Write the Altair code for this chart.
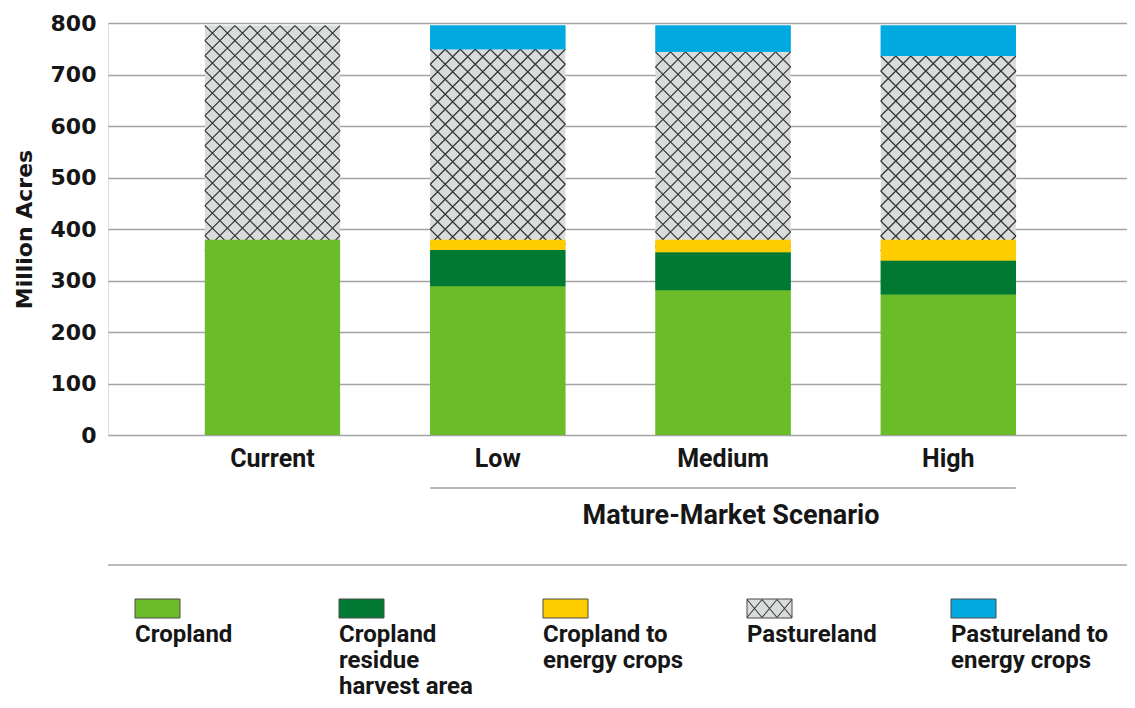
import altair as alt
import pandas as pd

# ---------------- data ----------------
scenarios = ["Current", "Low", "Medium", "High"]
categories = [
    "Cropland",
    "Cropland residue harvest area",
    "Cropland to energy crops",
    "Pastureland",
    "Pastureland to energy crops",
]
legend_labels = [
    "Cropland",
    "Cropland\nresidue\nharvest area",
    "Cropland to\nenergy crops",
    "Pastureland",
    "Pastureland to\nenergy crops",
]
cropland = [379, 289, 281, 273]
residue = [0, 70, 74, 66]
crop_energy = [0, 20, 24, 40]
pasture = [416, 370, 365, 357]
pasture_energy = [0, 46, 51, 59]
group_label = "Mature-Market Scenario"
y_ticks = [0, 100, 200, 300, 400, 500, 600, 700, 800]

colors = ["#6abd28", "#007a33", "#ffcc00", "#d8dcdc", "#00a9e0"]

series = [cropland, residue, crop_energy, pasture, pasture_energy]
rows = []
for ci, (cat, vals) in enumerate(zip(categories, series)):
    for si, (sc, v) in enumerate(zip(scenarios, vals)):
        rows.append({"scenario": sc, "idx": si, "category": cat, "order": ci, "value": v})
df = pd.DataFrame(rows)
scen_df = pd.DataFrame({"scenario": scenarios, "idx": list(range(len(scenarios)))})
leg_df = pd.DataFrame({"category": categories, "label": legend_labels,
                       "i": list(range(len(categories)))})
grp_df = pd.DataFrame({"label": [group_label], "from": [1], "to": [3]})

# ---------------- layout constants ----------------
W, H = 1019, 412
HALF = 0.3                      # half bar width in x units
CELL_Y = 800 * 15 / H           # hatch cell height in data units (15 px)
NX = 9                          # hatch cells across a bar
NARROW = "Roboto, Liberation Sans, sans-serif"
WIDE = "DejaVu Sans, sans-serif"
GRID = "#a3a3a3"
TXT = "#161616"

xs = alt.Scale(domain=[-0.73, 3.793], nice=False, zero=False)
ys = alt.Scale(domain=[0, 800], nice=False)
color_scale = alt.Scale(domain=categories, range=colors)

base = alt.Chart(df).transform_stack(
    stack="value", groupby=["scenario"], as_=["y0", "y1"],
    sort=[alt.SortField("order", order="ascending")]
).transform_calculate(
    xl=f"datum.idx - {HALF}", xr=f"datum.idx + {HALF}"
)

bars_all = base.mark_rect().encode(
    x=alt.X("xl:Q", scale=xs, axis=None),
    x2="xr:Q",
    y=alt.Y("y0:Q", scale=ys, title="Million Acres",
            axis=alt.Axis(values=y_ticks, grid=True, gridColor=GRID, gridWidth=1.6,
                          domain=False, ticks=False, labelPadding=12,
                          labelFont=WIDE, labelFontSize=22, labelFontWeight="bold",
                          labelColor=TXT, titleFont=WIDE, titleFontSize=22,
                          titleFontWeight="bold", titleColor=TXT, titleAngle=270,
                          titleX=-84, titleY=206, titleAlign="center",
                          titleBaseline="middle")),
    y2="y1:Q",
    color=alt.Color("category:N", scale=color_scale, legend=None),
)

hatch = base.transform_filter(
    "datum.category == 'Pastureland' && datum.value > 0"
).transform_calculate(
    js=f"sequence(0, {NX})"
).transform_flatten(["js"]).transform_calculate(
    ks=f"sequence(0, ceil((datum.y1 - datum.y0) / {CELL_Y}))"
).transform_flatten(["ks"]).transform_calculate(
    hx=f"datum.idx - {HALF} + (datum.js + 0.5) * {2 * HALF} / {NX}",
    hy=f"datum.y1 - (datum.ks + 0.5) * {CELL_Y}",
).mark_point(
    shape="M-1,-1L1,1M-1,1L1,-1", size=225, filled=False,
    strokeWidth=1.2, color="#333333", opacity=1
).encode(
    x=alt.X("hx:Q", scale=xs, axis=None),
    y=alt.Y("hy:Q", scale=ys),
)

bars_top = base.transform_filter("datum.category != 'Pastureland'").mark_rect().encode(
    x=alt.X("xl:Q", scale=xs, axis=None),
    x2="xr:Q",
    y=alt.Y("y0:Q", scale=ys),
    y2="y1:Q",
    color=alt.Color("category:N", scale=color_scale, legend=None),
)

xlabels = alt.Chart(scen_df).mark_text(
    font=NARROW, fontSize=25, fontWeight="bold", color=TXT,
    align="center", baseline="alphabetic"
).encode(
    x=alt.X("idx:Q", scale=xs, axis=None),
    y=alt.value(444),
    text="scenario:N",
)

grp_base = alt.Chart(grp_df).transform_calculate(
    gl=f"datum['from'] - {HALF}", gr=f"datum['to'] + {HALF}",
    gm="(datum['from'] + datum['to']) / 2",
)
grp_rule = grp_base.mark_rule(color=GRID, strokeWidth=1.6).encode(
    x=alt.X("gl:Q", scale=xs, axis=None), x2="gr:Q", y=alt.value(465)
)
grp_text = grp_base.mark_text(
    font=NARROW, fontSize=27, fontWeight="bold", color=TXT,
    align="center", baseline="alphabetic", dx=8
).encode(
    x=alt.X("gm:Q", scale=xs, axis=None), y=alt.value(501), text="label:N"
)

sep = alt.Chart(grp_df).mark_rule(color=GRID, strokeWidth=1.6).encode(
    x=alt.value(0), x2=alt.value(W), y=alt.value(542)
)

main = alt.layer(bars_all, hatch, bars_top, xlabels, grp_rule, grp_text, sep)

# ---------------- legend ----------------
ls = alt.Scale(domain=[-0.1324, 4.8627], nice=False, zero=False)
SW = 45 / 204
lbase = alt.Chart(leg_df).transform_calculate(
    lr=f"datum.i + {SW}", lc=f"datum.i + {SW / 2}"
)
swatch = lbase.mark_rect(stroke="#4a4a4a", strokeWidth=1).encode(
    x=alt.X("i:Q", scale=ls, axis=None), x2="lr:Q",
    y=alt.value(576), y2=alt.value(595),
    color=alt.Color("category:N", scale=color_scale, legend=None),
)
swatch_hatch = lbase.transform_filter("datum.category == 'Pastureland'").mark_point(
    shape=("M-1.5,-0.6L-0.5,0.6M-1.5,0.6L-0.5,-0.6M-0.5,-0.6L0.5,0.6M-0.5,0.6L0.5,-0.6"
           "M0.5,-0.6L1.5,0.6M0.5,0.6L1.5,-0.6"),
    size=900, filled=False, strokeWidth=1.1, color="#3c3c3c", opacity=1
).encode(
    x=alt.X("lc:Q", scale=ls, axis=None), y=alt.value(585.5)
)
leg_text = lbase.mark_text(
    font=NARROW, fontSize=24, fontWeight="bold", color=TXT,
    align="left", baseline="alphabetic", lineBreak="\n", lineHeight=26
).encode(
    x=alt.X("i:Q", scale=ls, axis=None), y=alt.value(619), text="label:N"
)
legend = alt.layer(swatch, swatch_hatch, leg_text)

chart = alt.layer(main, legend).resolve_scale(x="independent").properties(
    width=W, height=H,
    autosize=alt.AutoSizeParams(type="none"),
    padding={"left": 100, "top": 15, "right": 0, "bottom": 265},
).configure_view(stroke=None).configure(background="white")

chart.save("out.html", embed_options={"renderer": "svg", "actions": False})
